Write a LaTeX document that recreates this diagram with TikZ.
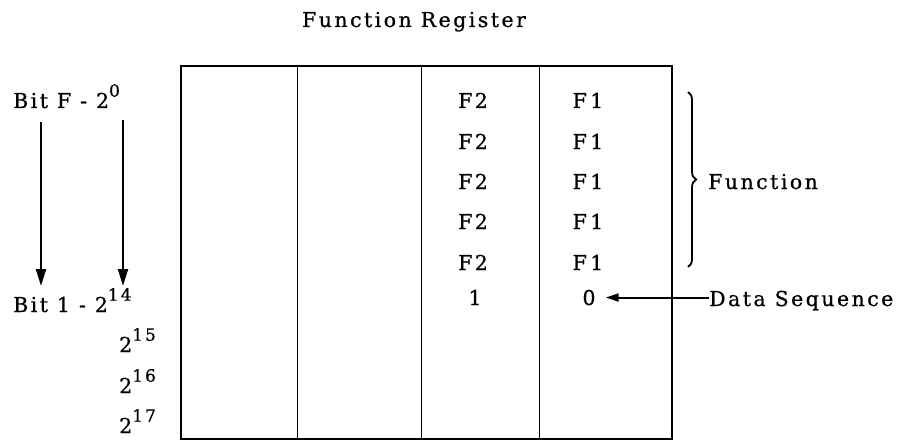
\documentclass[tikz,border=0pt]{standalone}
\usepackage{fontspec}
\setmainfont[LetterSpace=12,FakeBold=0.7]{DejaVu Serif}
\usetikzlibrary{arrows.meta,decorations.pathreplacing}
\newcommand{\pw}[1]{2\raisebox{0.55em}{\fontsize{17}{17}\selectfont #1}}
\begin{document}
\begin{tikzpicture}[x=1pt,y=-1pt,
  lbl/.style={inner sep=0pt,font=\fontsize{20.5}{24}\selectfont},
  reg/.style={line width=1.5pt},
  sep/.style={line width=1pt},
  flow/.style={line width=2.2pt,-{Triangle[length=17pt,width=10pt]}},
  dflow/.style={line width=2pt,-{Triangle[length=13pt,width=8pt]}}]
\useasboundingbox (0,0) rectangle (901,441);
% register outline and column separators
\draw[reg] (181,66) rectangle (672,439);
\draw[sep] (297,66) -- (297,439);
\draw[sep] (421,66) -- (421,439);
\draw[sep] (539,66) -- (539,439);
% title
\node[lbl,anchor=base] (title) at (414,27) {Function Register};
% function bits
\foreach \i/\y in {1/108,2/149,3/189,4/229,5/270}{
  \node[lbl,anchor=base] (ftwo\i) at (473,\y) {F2};
  \node[lbl,anchor=base] (fone\i) at (588,\y) {F\,1};
}
\node[lbl,anchor=base] (one) at (475,305) {1};
\node[lbl,anchor=base,inner xsep=10pt] (zero) at (589,305) {0};
% left side bit labels
\node[lbl,anchor=base west] (bitf) at (13,108) {Bit F - \pw{0}};
\node[lbl,anchor=base west] (bitone) at (13,312) {Bit 1 - \pw{14}};
\node[lbl,anchor=base west] (p15) at (119,352) {\pw{15}};
\node[lbl,anchor=base west] (p16) at (119,393) {\pw{16}};
\node[lbl,anchor=base west] (p17) at (119,433) {\pw{17}};
\coordinate (la) at (41,122);
\coordinate (lb) at (41,286);
\coordinate (ra) at (123,120);
\coordinate (rb) at (123,286);
\draw[flow] (la) -- (lb);
\draw[flow] (ra) -- (rb);
% brace and function label
\draw[line width=1.8pt,decorate,decoration={brace,amplitude=8pt}]
  (688,92) -- (688,267);
\node[lbl,anchor=base west] (func) at (708,189) {Function};
% data sequence
\node[lbl,anchor=base west] (data) at (709,306) {Data Sequence};
\draw[dflow] (data.west |- zero.center) -- (zero.east);
\end{tikzpicture}
\end{document}
